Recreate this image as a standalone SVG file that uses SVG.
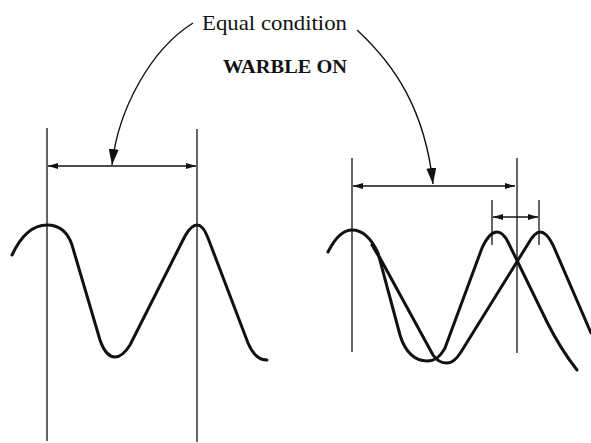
<svg xmlns="http://www.w3.org/2000/svg" width="591" height="443" viewBox="0 0 591 443">
<style>
.txt{font-family:"Liberation Serif","Times New Roman",serif;fill:#111}
.wave{fill:none;stroke:#111;stroke-width:3;stroke-linecap:round;stroke-linejoin:round}
.ref{stroke:#111;stroke-width:1.3;fill:none}
.dim{stroke:#111;stroke-width:1.4;fill:none}
.call{stroke:#111;stroke-width:1.4;fill:none}
</style>
<defs>
<marker id="sa" viewBox="0 0 10 6" refX="10" refY="3" markerWidth="10" markerHeight="6" markerUnits="userSpaceOnUse" orient="auto-start-reverse">
<path d="M0,0 L10,3 L0,6 Z" fill="#111"/>
</marker>
<marker id="ba" viewBox="0 0 16 10" refX="16" refY="5" markerWidth="16" markerHeight="10" markerUnits="userSpaceOnUse" orient="auto">
<path d="M0,0 L16,5 L0,10 Z" fill="#111"/>
</marker>
</defs>
<rect width="591" height="443" fill="#fff"/>
<g id="labels">
<text class="txt" x="202" y="30" font-size="21" textLength="145" lengthAdjust="spacingAndGlyphs">Equal condition</text>
<text class="txt" x="223" y="73" font-size="19" font-weight="bold" textLength="124" lengthAdjust="spacingAndGlyphs">WARBLE ON</text>
</g>
<g id="left-panel">
<line class="ref" x1="47" y1="128" x2="47" y2="441"/>
<line class="ref" x1="197" y1="129" x2="197" y2="442"/>
<path class="wave" d="M12,255 C20,238 32,225 47,225 C60,225 68,233 72,245 L100,340 C104,352 110,357 115,357 C120,357 125,353 130,345 L185,236 C189,229 193,225 197,225 C201,225 205,230 208,238 L248,343 C253,355 260,360 267,360"/>
</g>
<g id="right-panel">
<line class="ref" x1="352" y1="158" x2="352" y2="352"/>
<line class="ref" x1="517" y1="158" x2="517" y2="353"/>
<line class="ref" x1="492" y1="200" x2="492" y2="245"/>
<line class="ref" x1="539" y1="200" x2="539" y2="245"/>
<path class="wave" d="M328,252 C335,238 343,230 352,230 C364,230 372,240 378,253 L400,335 C405,352 415,361 427,361 C435,361 440,357 445,348 L482,248 C487,237 492,232 497,232 C502,232 505,236 508,242 L547,322 C556,340 566,356 577,370"/>
<path class="wave" d="M372,245 C375,250 377,254 380,258 L433,355 C437,361 442,363 447,363 C452,363 456,360 461,352 L528,244 C532,237 536,232 540,232 C545,232 549,237 553,245 L591,333"/>
</g>
<g id="connectors">
<line class="dim" x1="48" y1="166" x2="196" y2="166" marker-start="url(#sa)" marker-end="url(#sa)"/>
<line class="dim" x1="353" y1="186" x2="515" y2="186" marker-start="url(#sa)" marker-end="url(#sa)"/>
<line class="dim" x1="493" y1="217" x2="538" y2="217" marker-start="url(#sa)" marker-end="url(#sa)"/>
<path class="call" d="M193,23 C150,50 118,110 112,165" marker-end="url(#ba)"/>
<path class="call" d="M357,30 C395,65 425,110 433,184" marker-end="url(#ba)"/>
</g>
</svg>
